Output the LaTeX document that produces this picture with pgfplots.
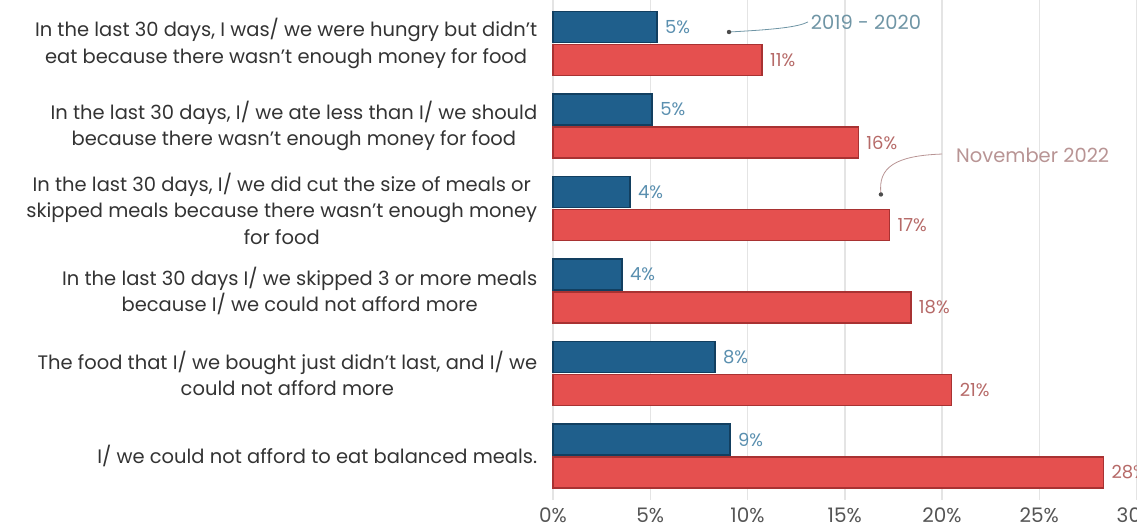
\documentclass[border=0pt]{standalone}
\usepackage{pgfplots}
\pgfplotsset{compat=1.18}
\usepackage{fontspec}
\setmainfont{Poppins}
\definecolor{cblue}{HTML}{1F5F8C}
\definecolor{cblueedge}{HTML}{123F60}
\definecolor{cred}{HTML}{E5504F}
\definecolor{crededge}{HTML}{A83232}
\definecolor{lblue}{HTML}{5A8FAF}
\definecolor{lred}{HTML}{B66A68}
\definecolor{txt}{HTML}{333333}
\definecolor{tickc}{HTML}{555555}
\definecolor{gridc}{HTML}{E4E4E4}
\definecolor{annb}{HTML}{6F95A5}
\definecolor{annr}{HTML}{B89494}
\begin{document}
\begin{tikzpicture}
\begin{axis}[
  at={(553pt,32pt)}, anchor=south west,
  scale only axis, width=583.5pt, height=500pt,
  xbar, bar width=31pt,
  xmin=0, xmax=30, ymin=-0.533, ymax=5.527,
  xtick={0,5,...,30},
  xticklabels={0\%,5\%,10\%,15\%,20\%,25\%,30\%},
  ytick={0,1,2,3,4,5},
  yticklabels={
    {I/ we could not afford to eat balanced meals.},
    {The food that I/ we bought just didn't last, and I/ we\\could not afford more},
    {In the last 30 days I/ we skipped 3 or more meals\\because I/ we could not afford more},
    {In the last 30 days, I/ we did cut the size of meals or\\skipped meals because there wasn't enough money\\for food},
    {In the last 30 days, I/ we ate less than I/ we should\\because there wasn't enough money for food},
    {In the last 30 days, I was/ we were hungry but didn't\\eat because there wasn't enough money for food}},
  yticklabel style={align=center, font=\fontsize{19.5}{26.5}\selectfont, text=txt, xshift=-8pt},
  xticklabel style={font=\fontsize{20}{22}\selectfont, text=tickc, yshift=-4pt},
  axis line style={draw=none}, major tick style={draw=none},
  xmajorgrids, grid style={gridc, line width=1.5pt},
  clip=false,
  point meta=explicit symbolic,
  nodes near coords,
  every node near coord/.append style={font=\fontsize{18}{19}\selectfont, anchor=west, xshift=4pt},
]
\addplot[fill=cblue, draw=cblueedge, line width=1.5pt, bar shift=16.5pt,
  every node near coord/.append style={text=lblue}] coordinates {
  (9.1,0) [9\%]
  (8.33,1) [8\%]
  (3.55,2) [4\%]
  (3.96,3) [4\%]
  (5.1,4) [5\%]
  (5.35,5) [5\%]
};
\addplot[fill=cred, draw=crededge, line width=1.5pt, bar shift=-16.5pt,
  every node near coord/.append style={text=lred}] coordinates {
  (28.3,0) [28\%]
  (20.5,1) [21\%]
  (18.4,2) [18\%]
  (17.3,3) [17\%]
  (15.7,4) [16\%]
  (10.75,5) [11\%]
};
% annotations
\draw[annb, line width=0.8pt] (axis cs:9.05,5.139) .. controls (axis cs:11.5,5.17) and (axis cs:12.6,5.2) .. (axis cs:13.11,5.261);
\fill[black!70] (axis cs:9.05,5.139) circle (2.2pt);
\node[anchor=west, text=annb, font=\fontsize{19.5}{21}\selectfont, inner sep=1pt] at (axis cs:13.2,5.261) {2019 - 2020};
\draw[annr, line width=0.8pt] (axis cs:20.0,3.66) .. controls (axis cs:17.6,3.64) and (axis cs:16.7,3.5) .. (axis cs:16.86,3.18);
\fill[black!70] (axis cs:16.86,3.17) circle (2.2pt);
\node[anchor=west, text=annr, font=\fontsize{19.5}{21}\selectfont, inner sep=1pt] at (axis cs:20.67,3.648) {November 2022};
\end{axis}
\pgfresetboundingbox
\path[use as bounding box] (0,0) rectangle (1137pt,532pt);
\end{tikzpicture}
\end{document}
